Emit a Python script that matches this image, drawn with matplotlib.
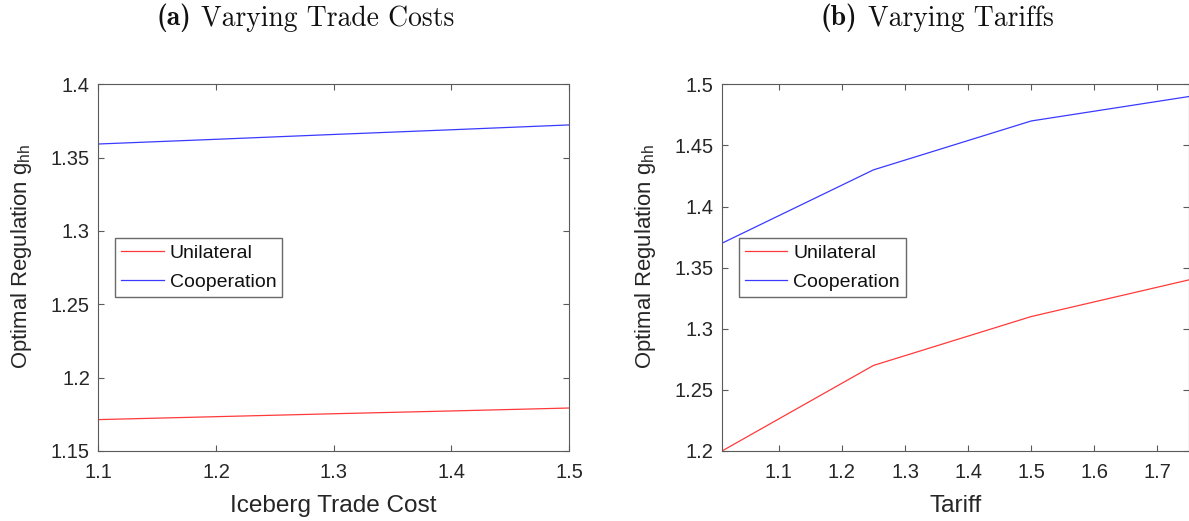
import matplotlib
matplotlib.use("Agg")
import matplotlib.pyplot as plt

# ---- data ----
iceberg_x = [1.1, 1.2, 1.3, 1.4, 1.5]
iceberg_unilateral = [1.1714, 1.1734, 1.1754, 1.1773, 1.1793]
iceberg_cooperation = [1.3593, 1.3625, 1.3658, 1.3690, 1.3723]

tariff_x = [1.01, 1.25, 1.5, 1.75]
tariff_unilateral = [1.20, 1.27, 1.31, 1.34]
tariff_cooperation = [1.37, 1.43, 1.47, 1.49]

left_xticks = [1.1, 1.2, 1.3, 1.4, 1.5]
left_yticks = [1.15, 1.2, 1.25, 1.3, 1.35, 1.4]
right_xticks = [1.1, 1.2, 1.3, 1.4, 1.5, 1.6, 1.7]
right_yticks = [1.2, 1.25, 1.3, 1.35, 1.4, 1.45, 1.5]

series_labels = ["Unilateral", "Cooperation"]
title_tags = ["(a)", "(b)"]
title_texts = ["Varying Trade Costs", "Varying Tariffs"]
xlabels = ["Iceberg Trade Cost", "Tariff"]
ylabel = r"Optimal Regulation g$_{\mathrm{hh}}$"

plt.rcParams["font.family"] = ["Liberation Sans", "DejaVu Sans"]
plt.rcParams["mathtext.fontset"] = "custom"
plt.rcParams["mathtext.rm"] = "Liberation Sans"
plt.rcParams["mathtext.it"] = "Liberation Sans:italic"
plt.rcParams["mathtext.bf"] = "Liberation Sans:bold"

W, H = 1189, 521
fig = plt.figure(figsize=(W / 100, H / 100), dpi=100)
renderer = fig.canvas.get_renderer()

def px_axes(x0, x1, ytop, ybot):
    return fig.add_axes([x0 / W, 1 - ybot / H, (x1 - x0) / W, (ybot - ytop) / H])

def text_w(t):
    return t.get_window_extent(renderer).width

def fit_width(text, target_px):
    cur = text_w(text)
    if cur > 0:
        text.set_fontsize(text.get_fontsize() * target_px / cur)
    return text.get_fontsize()

ax1 = px_axes(98.3, 569.0, 84.3, 451.0)
ax2 = px_axes(722.0, 1189.0, 84.3, 451.0)

red = "#ff3a3a"
blue = "#3a3aff"
spine_col = "#5a5a5a"
text_col = "#262626"

panels = [
    (ax1, iceberg_x, iceberg_unilateral, iceberg_cooperation, (1.1, 1.5), (1.15, 1.4), left_xticks, left_yticks),
    (ax2, tariff_x, tariff_unilateral, tariff_cooperation, (1.01, 1.75), (1.2, 1.5), right_xticks, right_yticks),
]

probe = fig.text(0, 0, xlabels[0], fontsize=16)
xlabel_fs = fit_width(probe, 208)
probe.remove()
probe = fig.text(0, 0, ylabel, fontsize=16)
ylabel_fs = fit_width(probe, 226)
probe.remove()

for i, (ax, x, u, c, xl, yl, xt, yt) in enumerate(panels):
    ax.plot(x, u, color=red, lw=0.9, label=series_labels[0])
    ax.plot(x, c, color=blue, lw=0.9, label=series_labels[1])
    ax.set_xlim(*xl)
    ax.set_ylim(*yl)
    ax.set_xticks(xt)
    ax.set_yticks(yt)
    ax.set_xticklabels([f"{v:g}" for v in xt])
    ax.set_yticklabels([f"{v:g}" for v in yt])
    for s in ax.spines.values():
        s.set_color(spine_col)
        s.set_linewidth(0.8)
    ax.tick_params(direction="in", length=4, width=0.8, color=spine_col,
                   labelsize=14.5, labelcolor=text_col, top=True, right=True)
    ax.tick_params(axis="x", pad=9)
    ax.tick_params(axis="y", pad=6)
    ax.set_xlabel(xlabels[i], fontsize=xlabel_fs, color=text_col)
    ax.xaxis.set_label_coords(0.5, -(512 - 451) / 366.7)
    ax.xaxis.label.set_va("baseline")
    ax.set_ylabel(ylabel, fontsize=ylabel_fs, color=text_col)
    ax.yaxis.set_label_coords((34 - 98.3) / 470.7, (451 - 256.5) / 366.7)
    leg = ax.legend(loc="upper left", bbox_to_anchor=(0.036, 0.58), borderaxespad=0,
                    fontsize=14, frameon=True, fancybox=False, framealpha=1,
                    edgecolor="#6a6a6a", handlelength=2.2, handletextpad=0.3,
                    labelspacing=0.6, borderpad=0.3)
    leg.get_frame().set_linewidth(1.0)
    for t in leg.get_texts():
        t.set_color("#111111")

# titles: bold tag in cmb10 + regular text in cmr10
title_y = 1 - 25.5 / H
def make_title(tag, txt, cx, fs):
    tb = fig.text(0, title_y, tag, family="cmb10", fontsize=fs,
                  ha="left", va="baseline", color="#111111")
    tr = fig.text(0, title_y, txt, family="cmr10", fontsize=fs,
                  ha="left", va="baseline", color="#111111")
    return tb, tr

def place_title(tb, tr, cx):
    fs = tb.get_fontsize()
    gap = 0.38 * fs * 100 / 72
    wb, wr = text_w(tb), text_w(tr)
    total = wb + gap + wr
    x0 = cx - total / 2
    tb.set_x(x0 / W)
    tr.set_x((x0 + wb + gap) / W)
    return total

tb, tr = make_title(title_tags[0], title_texts[0], 305.5, 17)
total = place_title(tb, tr, 305.5)
title_fs = 17 * 299 / total
tb.set_fontsize(title_fs)
tr.set_fontsize(title_fs)
place_title(tb, tr, 305.5)

tb2, tr2 = make_title(title_tags[1], title_texts[1], 937, title_fs)
place_title(tb2, tr2, 937)

fig.savefig("out.png", dpi=100)
